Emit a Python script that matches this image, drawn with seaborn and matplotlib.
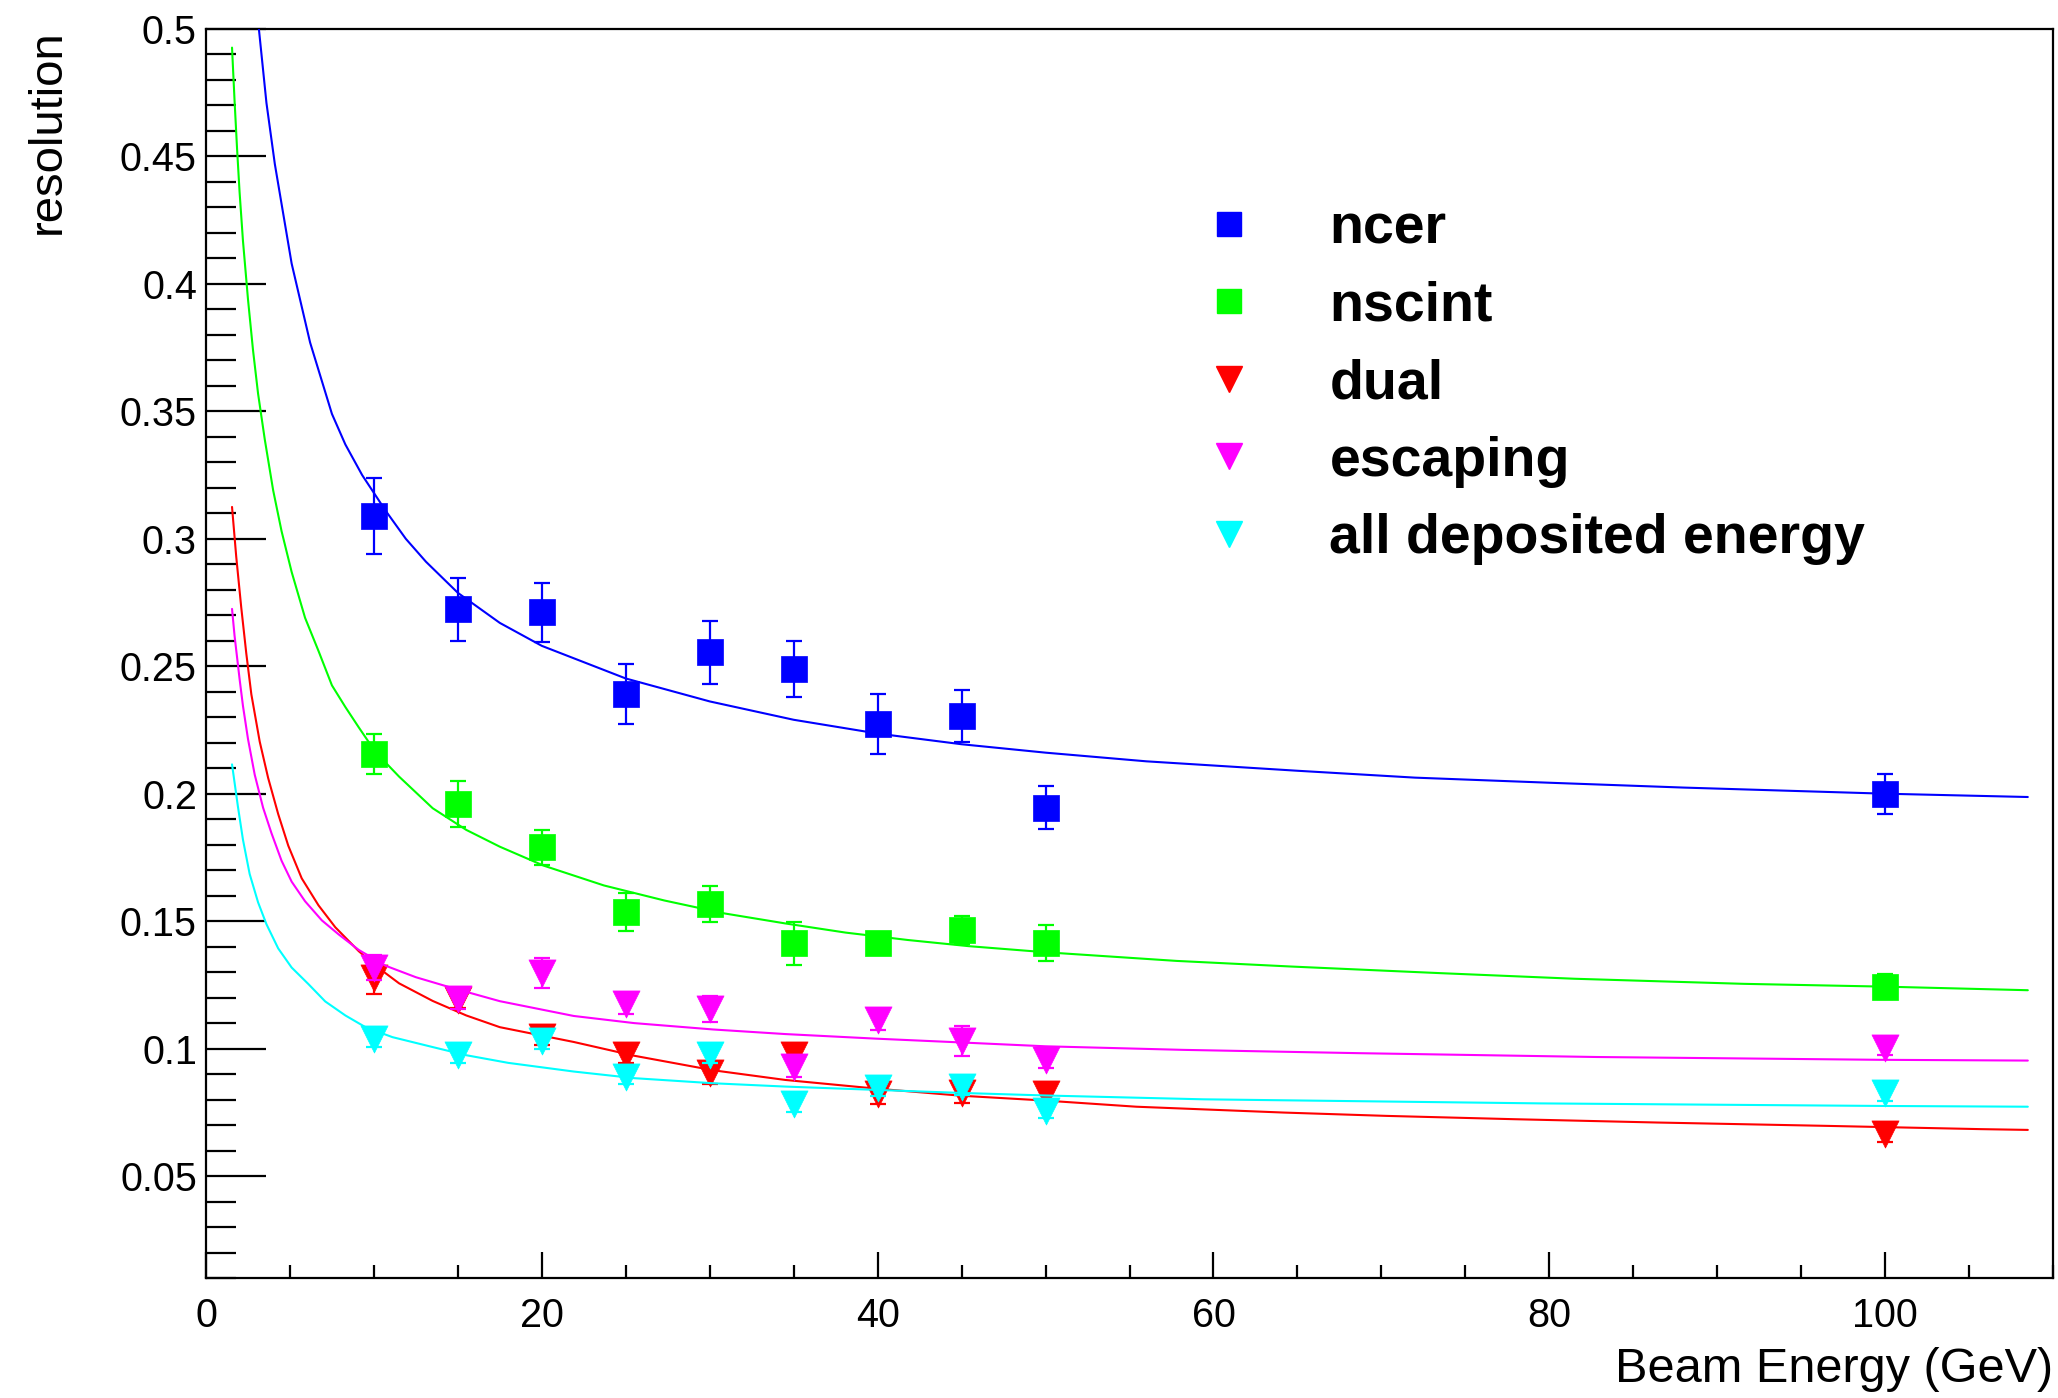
import numpy as np
import pandas as pd
import matplotlib
matplotlib.use("Agg")
import matplotlib.pyplot as plt
import seaborn as sns
from matplotlib.lines import Line2D
from matplotlib.ticker import FixedLocator, MultipleLocator
from matplotlib.font_manager import FontProperties

# ---------------- data ----------------
energy = [10, 15, 20, 25, 30, 35, 40, 45, 50, 100]

ncer = [0.309, 0.2724, 0.2711, 0.239, 0.2554, 0.2488, 0.2272, 0.2305, 0.1945, 0.200]
ncer_err = [0.0149, 0.0124, 0.0116, 0.0118, 0.0124, 0.011, 0.0118, 0.0103, 0.0085, 0.0078]

nscint = [0.2155, 0.196, 0.179, 0.1536, 0.1568, 0.1413, 0.1413, 0.1465, 0.1413, 0.1243]
nscint_err = [0.0078, 0.0091, 0.0068, 0.0075, 0.007, 0.0084, 0.004, 0.0055, 0.0071, 0.005]

dual = [0.1276, 0.119, 0.1045, 0.0974, 0.0903, 0.0974, 0.0822, 0.0826, 0.0822, 0.0665]
dual_err = [0.006, 0.003, 0.003, 0.003, 0.004, 0.003, 0.004, 0.004, 0.003, 0.003]

escaping = [0.1318, 0.1194, 0.1297, 0.1174, 0.1155, 0.0929, 0.1113, 0.1030, 0.0955, 0.1004]
escaping_err = [0.005, 0.004, 0.006, 0.004, 0.005, 0.004, 0.004, 0.006, 0.003, 0.003]

alldep = [0.1036, 0.0974, 0.1030, 0.0890, 0.0974, 0.0783, 0.0845, 0.0848, 0.0756, 0.0824]
alldep_err = [0.003, 0.003, 0.003, 0.003, 0.003, 0.003, 0.003, 0.003, 0.003, 0.003]

# fitted curves
ncer_fit_E = [3.15, 3.6, 4.1, 5.1, 6.2, 7.5, 8.3, 9.3, 10.7, 11.9, 13.1, 15.0, 17.5, 20.0,
              25.0, 30.0, 35.0, 40.0, 45.0, 50.0, 56.0, 65.0, 72.0, 80.0, 88.0, 96.0,
              100.0, 108.5]
ncer_fit = [0.500, 0.471, 0.447, 0.408, 0.377, 0.349, 0.337, 0.325, 0.311, 0.300, 0.291,
            0.2788, 0.267, 0.258, 0.2452, 0.2362, 0.229, 0.2236, 0.2194, 0.2161, 0.2127,
            0.2090, 0.2063, 0.2043, 0.2024, 0.2008, 0.2000, 0.1987]

nscint_fit_E = [1.55, 1.7, 1.85, 2.0, 2.2, 2.5, 2.8, 3.1, 3.5, 4.0, 4.5, 5.1, 5.9, 6.7, 7.5,
                8.3, 9.1, 10.1, 11.5, 13.5, 15.5, 17.5, 20.1, 23.7, 27.3, 30.9, 34.5, 38.1,
                41.8, 45.4, 50.0, 57.8, 64.6, 73.5, 81.5, 91.6, 100.0, 108.5]
nscint_fit = [0.4927, 0.472, 0.453, 0.436, 0.417, 0.394, 0.374, 0.357, 0.339, 0.319, 0.303,
              0.287, 0.269, 0.256, 0.2425, 0.234, 0.226, 0.2163, 0.2067, 0.1943, 0.1858,
              0.1792, 0.1718, 0.1640, 0.1581, 0.1530, 0.1491, 0.1455, 0.1426, 0.1402, 0.1378,
              0.1344, 0.1322, 0.1296, 0.1274, 0.1254, 0.1243, 0.1229]

dual_fit_E = [1.55, 1.8, 2.1, 2.4, 2.7, 3.2, 3.7, 4.3, 4.9, 5.7, 6.7, 7.7, 9.1, 10.1, 11.5,
              13.5, 15.5, 17.5, 21.9, 25.5, 30.2, 34.5, 39.9, 45.0, 50.0, 55.4, 64.2, 70.3,
              77.9, 86.4, 96.4, 105.7, 108.5]
dual_fit = [0.3125, 0.293, 0.273, 0.255, 0.239, 0.2204, 0.2062, 0.192, 0.1796, 0.1668, 0.1562,
            0.1476, 0.1382, 0.1325, 0.1256, 0.1187, 0.1130, 0.1084, 0.1026, 0.0972, 0.0915,
            0.0877, 0.0843, 0.0815, 0.0796, 0.0772, 0.0749, 0.0736, 0.0723, 0.0710, 0.0697,
            0.0684, 0.0681]

escaping_fit_E = [1.55, 1.7, 2.0, 2.2, 2.5, 2.9, 3.4, 3.9, 4.5, 5.1, 5.9, 6.9, 7.9, 9.1, 10.7,
                  12.5, 14.5, 17.5, 21.9, 25.5, 30.2, 34.5, 39.9, 45.0, 50.0, 58.2, 68.7,
                  82.8, 99.7, 108.5]
escaping_fit = [0.2725, 0.262, 0.245, 0.2345, 0.2215, 0.2075, 0.1945, 0.1845, 0.1737, 0.1655,
                0.1578, 0.1503, 0.1448, 0.1387, 0.1325, 0.1280, 0.1241, 0.1186, 0.1128,
                0.1100, 0.1075, 0.1057, 0.1039, 0.1024, 0.1009, 0.0995, 0.0982, 0.0967,
                0.0956, 0.0953]

alldep_fit_E = [1.55, 1.9, 2.2, 2.6, 3.1, 3.6, 4.3, 5.1, 6.1, 7.1, 8.3, 9.5, 11.1, 13.5, 15.5,
                18.0, 21.9, 25.5, 30.2, 34.5, 39.9, 45.0, 50.0, 59.4, 79.5, 99.7, 108.5]
alldep_fit = [0.2115, 0.195, 0.182, 0.1685, 0.1574, 0.1488, 0.1393, 0.1318, 0.1253, 0.1185,
              0.1130, 0.1084, 0.1045, 0.1006, 0.0974, 0.0944, 0.0910, 0.0884, 0.0864, 0.0851,
              0.0838, 0.0826, 0.0816, 0.0801, 0.0785, 0.0775, 0.0772]

labels = ["ncer", "nscint", "dual", "escaping", "all deposited energy"]
colors = ["#0000ff", "#00ff00", "#ff0000", "#ff00ff", "#00ffff"]
markers = ["s", "s", "v", "v", "v"]
marker_pt = [18.5, 18.5, 19.5, 19.5, 19.5]

x_ticks = [0, 20, 40, 60, 80, 100]
x_tick_labels = ["0", "20", "40", "60", "80", "100"]
y_ticks = [0.05, 0.1, 0.15, 0.2, 0.25, 0.3, 0.35, 0.4, 0.45, 0.5]
y_tick_labels = ["0.05", "0.1", "0.15", "0.2", "0.25", "0.3", "0.35", "0.4", "0.45", "0.5"]

# ---------------- plotting ----------------
sns.set_theme(style="white")
plt.rcParams['font.family'] = ['Liberation Sans', 'DejaVu Sans']
plt.rcParams['text.color'] = 'black'

W, H = 2058, 1398
fig = plt.figure(figsize=(W / 100, H / 100), dpi=100)
ax_l, ax_r, ax_t, ax_b = 206, 2053, 29, 1278
ax = fig.add_axes([ax_l / W, 1 - ax_b / H, (ax_r - ax_l) / W, (ax_b - ax_t) / H])

series = [
    (ncer, ncer_err, ncer_fit_E, ncer_fit),
    (nscint, nscint_err, nscint_fit_E, nscint_fit),
    (dual, dual_err, dual_fit_E, dual_fit),
    (escaping, escaping_err, escaping_fit_E, escaping_fit),
    (alldep, alldep_err, alldep_fit_E, alldep_fit),
]

for i, (vals, errs, fE, fV) in enumerate(series):
    c, m = colors[i], markers[i]
    base = 3 + 3 * i
    ax.errorbar(energy, vals, yerr=errs, fmt='none', ecolor=c, elinewidth=1.6,
                capsize=6, capthick=1.6, zorder=base)
    pts = pd.DataFrame({"E": energy, "res": vals})
    sns.scatterplot(data=pts, x="E", y="res", color=c, marker=m, s=marker_pt[i] ** 2,
                    edgecolor=c, linewidth=0.5, ax=ax, zorder=base + 1, legend=False)
    fit = pd.DataFrame({"E": fE, "res": fV})
    sns.lineplot(data=fit, x="E", y="res", color=c, linewidth=1.5, sort=False,
                 estimator=None, ax=ax, zorder=base + 2)

ax.set_xlim(0, 110)
ax.set_ylim(0.01, 0.5)

ax.xaxis.set_major_locator(FixedLocator(x_ticks))
ax.set_xticklabels(x_tick_labels)
ax.xaxis.set_minor_locator(MultipleLocator(5))
ax.yaxis.set_major_locator(FixedLocator(y_ticks))
ax.set_yticklabels(y_tick_labels)
ax.yaxis.set_minor_locator(MultipleLocator(0.01))

for sp in ax.spines.values():
    sp.set_color("black")
    sp.set_linewidth(1.6)
    sp.set_visible(True)

ax.tick_params(axis='both', which='both', direction='in', color='black', width=1.6,
               bottom=True, left=True, top=False, right=False,
               labelsize=28.5, labelcolor='black')
ax.tick_params(axis='x', which='major', length=18.7, pad=13.5)
ax.tick_params(axis='x', which='minor', length=9.4)
ax.tick_params(axis='y', which='major', length=43, pad=6.5)
ax.tick_params(axis='y', which='minor', length=21.6)

ax.set_xlabel("Beam Energy (GeV)", fontsize=35, loc='right', color='black')
ax.xaxis.set_label_coords(1.0, -0.055)
ax.set_ylabel("resolution", fontsize=34, loc='top', color='black')
ax.yaxis.set_label_coords(-0.0735, 1.0)

handles = [Line2D([], [], linestyle='none', marker=markers[i], color=colors[i],
                  markeredgecolor=colors[i], markersize=marker_pt[i] - 1) for i in range(5)]
leg = ax.legend(handles, labels, loc='upper left', bbox_to_anchor=(1185 / W, 1 - 203 / H),
                bbox_transform=fig.transFigure, frameon=False,
                prop=FontProperties(family='Liberation Sans', weight='bold', size=40),
                handlelength=1.6, handletextpad=1.0, labelspacing=0.46,
                borderpad=0, borderaxespad=0, labelcolor='black')
leg.set_zorder(30)

fig.savefig("out.png", dpi=100)
